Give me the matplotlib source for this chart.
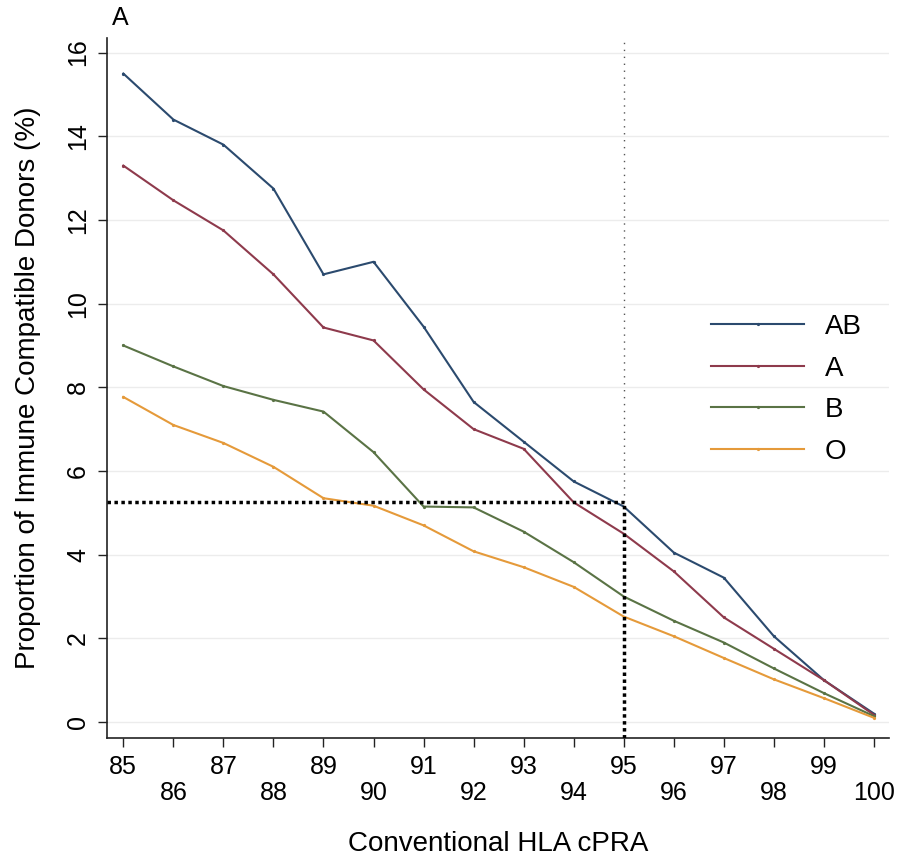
import matplotlib
matplotlib.use("Agg")
import matplotlib.pyplot as plt

plt.rcParams['font.family'] = ['Liberation Sans', 'DejaVu Sans']

cpra = [85, 86, 87, 88, 89, 90, 91, 92, 93, 94, 95, 96, 97, 98, 99, 100]
ab = [15.5, 14.4, 13.8, 12.75, 10.7, 11.0, 9.45, 7.65, 6.7, 5.75, 5.15, 4.05, 3.45, 2.05, 1.0, 0.2]
a = [13.3, 12.47, 11.75, 10.7, 9.43, 9.12, 7.95, 7.0, 6.53, 5.25, 4.5, 3.6, 2.5, 1.75, 1.0, 0.17]
b = [9.0, 8.5, 8.03, 7.7, 7.42, 6.45, 5.15, 5.13, 4.55, 3.82, 3.0, 2.42, 1.9, 1.28, 0.69, 0.14]
o = [7.77, 7.1, 6.67, 6.1, 5.35, 5.17, 4.7, 4.08, 3.7, 3.23, 2.52, 2.05, 1.53, 1.02, 0.57, 0.1]
series_labels = ["AB", "A", "B", "O"]
colors = ["#2b4a6e", "#8e3a4c", "#5a7345", "#e59a3a"]
y_ticks = [0, 2, 4, 6, 8, 10, 12, 14, 16]
ref_x = 95
ref_y = 5.26

fig = plt.figure(figsize=(8.97, 8.59), dpi=100)
ax = fig.add_axes([0.1196, 0.1412, 0.9911 - 0.1196, 0.9558 - 0.1412])

for yt in y_ticks:
    ax.axhline(yt, color="#ececec", lw=1.0, zorder=0)

for vals, lab, c in zip([ab, a, b, o], series_labels, colors):
    ax.plot(cpra, vals, color=c, lw=1.5, marker='o', markersize=1.3, label=lab, zorder=3)

# reference lines
ax.plot([ref_x, ref_x], [ref_y, 16.35], color="#555555", lw=1.0, ls=(0, (1, 4)), zorder=2)
ax.plot([84.68, ref_x], [ref_y, ref_y], color="black", lw=2.5, ls=(0, (1, 1)), zorder=4)
ax.plot([ref_x, ref_x], [-0.375, ref_y], color="black", lw=2.5, ls=(0, (1, 1)), zorder=4)

ax.set_xlim(84.68, 100.3)
ax.set_ylim(-0.375, 16.35)

ax.spines['top'].set_visible(False)
ax.spines['right'].set_visible(False)
for s in ['left', 'bottom']:
    ax.spines[s].set_linewidth(1.2)
    ax.spines[s].set_color("#222222")

ax.set_yticks(y_ticks)
ax.set_yticklabels([str(v) for v in y_ticks], rotation=90, va='center', fontsize=18)
ax.set_xticks(cpra)
xl = [str(v) if i % 2 == 0 else "\n" + str(v) for i, v in enumerate(cpra)]
ax.set_xticklabels(xl, fontsize=18)
for t in ax.get_xticklabels():
    t.set_linespacing(1.08)
ax.tick_params(axis='both', direction='out', length=6.5, width=1.0, color="#222222", pad=6)

ax.set_xlabel("Conventional HLA cPRA", fontsize=20, labelpad=19)
ax.set_ylabel("Proportion of Immune Compatible Donors (%)", fontsize=20, labelpad=18)

leg = ax.legend(loc='upper left', bbox_to_anchor=(711 / 897, 1 - 314 / 859),
                bbox_transform=fig.transFigure, frameon=False, fontsize=20,
                handlelength=3.35, handletextpad=0.75, labelspacing=0.56, borderpad=0,
                borderaxespad=0, markerscale=1.0)

fig.text(120 / 897, 1 - 18 / 859, "A", fontsize=18, ha='center', va='center')

fig.savefig("out.png", dpi=100)
